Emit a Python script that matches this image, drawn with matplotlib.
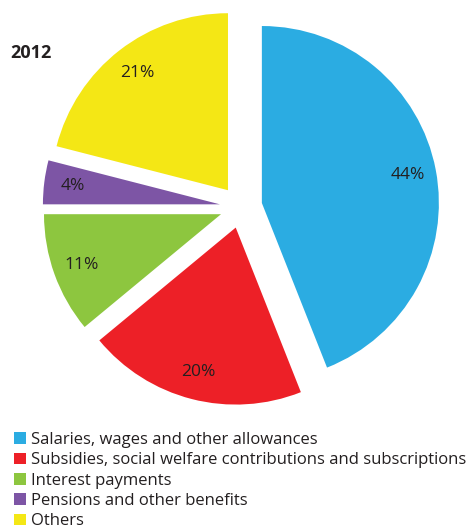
import matplotlib
matplotlib.use("Agg")
import matplotlib.pyplot as plt

# Expenditure shares, 2012
categories = [
    "Salaries, wages and other allowances",
    "Subsidies, social welfare contributions and subscriptions",
    "Interest payments",
    "Pensions and other benefits",
    "Others",
]
shares = [44, 20, 11, 4, 21]
year_label = "2012"

colors = ["#2BACE2", "#ED2027", "#8DC63F", "#7D55A5", "#F4E715"]
text_color = "#231F20"

plt.rcParams["font.family"] = ["Open Sans", "DejaVu Sans"]

W, H, DPI = 470, 531, 100
fig = plt.figure(figsize=(W / DPI, H / DPI), dpi=DPI)
ax = fig.add_axes([0, 0, 1, 1])

# pixel geometry of the pie
R_PX = 177.0
CX, CY = 241.0, 207.0  # centre, measured from top-left

wedges, _, autotexts = ax.pie(
    shares,
    colors=colors,
    startangle=90,
    counterclock=False,
    explode=[0.12] * len(shares),
    radius=1.0,
    autopct=lambda p: f"{p:.0f}%",
    pctdistance=0.84,
    textprops=dict(color=text_color, fontsize=12.5),
    wedgeprops=dict(linewidth=0),
)

ax.set_xlim(-CX / R_PX, (W - CX) / R_PX)
ax.set_ylim(-(H - CY) / R_PX, CY / R_PX)
ax.set_aspect("auto")
ax.axis("off")

fig.text(10 / W, 1 - 53 / H, year_label, fontsize=13, fontweight="bold",
         color=text_color, ha="left", va="center")

fig.legend(
    wedges, categories,
    loc="upper left",
    bbox_to_anchor=(14 / W, 1 - 432 / H),
    frameon=False,
    fontsize=12,
    handlelength=0.7,
    handleheight=0.7,
    handletextpad=0.3,
    labelspacing=0.26,
    borderpad=0,
    borderaxespad=0,
    labelcolor=text_color,
)

fig.savefig("out.png", dpi=DPI)
